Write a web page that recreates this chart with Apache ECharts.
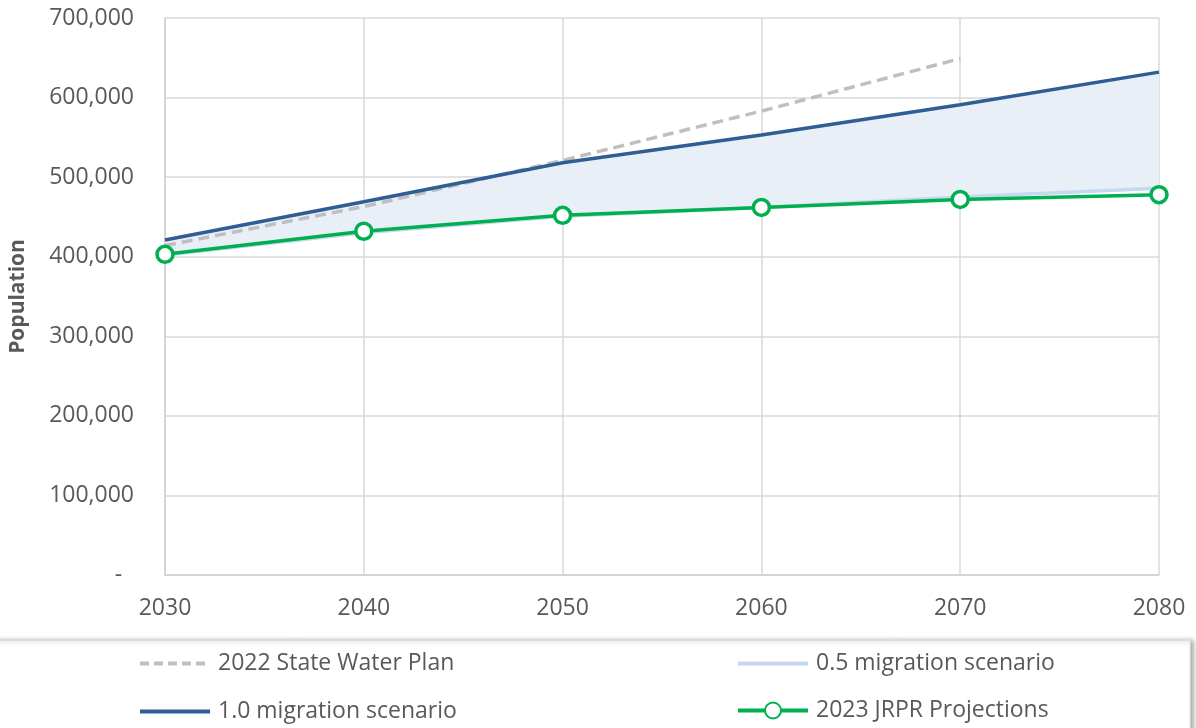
<!DOCTYPE html>
<html>
<head>
<meta charset="utf-8">
<script src="https://cdn.jsdelivr.net/npm/echarts@6/dist/echarts.min.js"></script>
<style>
  html, body { margin: 0; padding: 0; background: #fff; }
  #chart { width: 1196px; height: 728px; }
</style>
</head>
<body>
<div id="chart"></div>
<script>
// Population projections by decade
const years = ['2030', '2040', '2050', '2060', '2070', '2080'];
const stateWaterPlan = [414000, 463000, 521000, 583000, 649000, null];
const migrationHalf = [402000, 430000, 451000, 462000, 475000, 486000];
const migrationFull = [421000, 469000, 518000, 553000, 591000, 632000];
const jrprProjections = [403000, 432000, 452000, 462000, 472000, 478000];
const yTicks = { min: 0, max: 700000, step: 100000 };

const FONT = '"Open Sans", "Noto Sans", sans-serif';
const TEXT = '#595959';

// band between the 0.5 and 1.0 migration scenarios
const bandHeight = migrationFull.map((v, i) => v - migrationHalf[i]);

const chart = echarts.init(document.getElementById('chart'));

function legendAt(name, left, top, opts) {
  const lineStyle = { width: 4 };
  if (opts.dashed) lineStyle.type = [9, 5];
  return {
    data: [opts.marker ? name : { name: name, itemStyle: { opacity: 0 } }],
    left: left,
    top: top,
    itemWidth: 70,
    itemHeight: opts.marker ? 20 : 18,
    padding: 0,
    selectedMode: false,
    lineStyle: lineStyle,
    textStyle: { color: TEXT, fontSize: 23, fontFamily: FONT, padding: [0, 0, 0, 3] }
  };
}

chart.setOption({
  animation: false,
  backgroundColor: '#fff',
  grid: { left: 165, right: 37, top: 18, bottom: 153, containLabel: false },
  graphic: [{
    type: 'rect',
    z: 0,
    shape: { x: -8, y: 641, width: 1198, height: 110 },
    style: {
      fill: '#fff',
      stroke: '#ececec',
      lineWidth: 1,
      shadowColor: 'rgba(0,0,0,0.35)',
      shadowBlur: 5,
      shadowOffsetX: 3,
      shadowOffsetY: 0
    }
  }],
  legend: [
    legendAt('2022 State Water Plan', 138, 652, { dashed: true }),
    legendAt('0.5 migration scenario', 736, 652, {}),
    legendAt('1.0 migration scenario', 138, 700, {}),
    legendAt('2023 JRPR Projections', 736, 699, { marker: true })
  ],
  xAxis: {
    type: 'category',
    data: years,
    boundaryGap: false,
    axisLine: { show: true, lineStyle: { color: '#d0d0d0', width: 1.5 } },
    axisTick: { show: false },
    axisLabel: { color: TEXT, fontSize: 23, fontFamily: FONT, margin: 22 },
    splitLine: { show: true, lineStyle: { color: '#d9d9d9', width: 1.5 } }
  },
  yAxis: {
    type: 'value',
    min: yTicks.min,
    max: yTicks.max,
    interval: yTicks.step,
    name: 'Population',
    nameLocation: 'middle',
    nameGap: 136,
    nameTextStyle: { color: TEXT, fontSize: 21, fontWeight: 'bold', fontFamily: FONT },
    axisLine: { show: true, lineStyle: { color: '#d0d0d0', width: 1.5 } },
    axisTick: { show: false },
    axisLabel: {
      color: TEXT, fontSize: 23, fontFamily: FONT, margin: 31,
      formatter: v => v === 0 ? '-  ' : v.toLocaleString('en-US')
    },
    splitLine: { show: true, lineStyle: { color: '#d9d9d9', width: 1.5 } }
  },
  series: [
    {
      name: 'band-base',
      type: 'line',
      stack: 'band',
      data: migrationHalf,
      symbol: 'none',
      lineStyle: { opacity: 0 },
      silent: true,
      z: 1
    },
    {
      name: 'band',
      type: 'line',
      stack: 'band',
      data: bandHeight,
      symbol: 'none',
      lineStyle: { opacity: 0 },
      areaStyle: { color: '#e9eff7', opacity: 1 },
      silent: true,
      z: 1
    },
    {
      name: '0.5 migration scenario',
      type: 'line',
      data: migrationHalf,
      symbol: 'none',
      lineStyle: { color: '#c6d8f0', width: 3.5 },
      itemStyle: { color: '#c6d8f0' },
      z: 2
    },
    {
      name: '2022 State Water Plan',
      type: 'line',
      data: stateWaterPlan,
      symbol: 'none',
      lineStyle: { color: '#bfbfbf', width: 3.5, type: [11, 6] },
      itemStyle: { color: '#bfbfbf' },
      z: 3
    },
    {
      name: '1.0 migration scenario',
      type: 'line',
      data: migrationFull,
      symbol: 'none',
      lineStyle: { color: '#2f5d94', width: 3.5 },
      itemStyle: { color: '#2f5d94' },
      z: 4
    },
    {
      name: '2023 JRPR Projections',
      type: 'line',
      data: jrprProjections,
      symbol: 'circle',
      symbolSize: 16,
      lineStyle: { color: '#00b050', width: 3.5 },
      itemStyle: { color: '#fff', borderColor: '#00b050', borderWidth: 3.5 },
      z: 5
    }
  ]
});
</script>
</body>
</html>
